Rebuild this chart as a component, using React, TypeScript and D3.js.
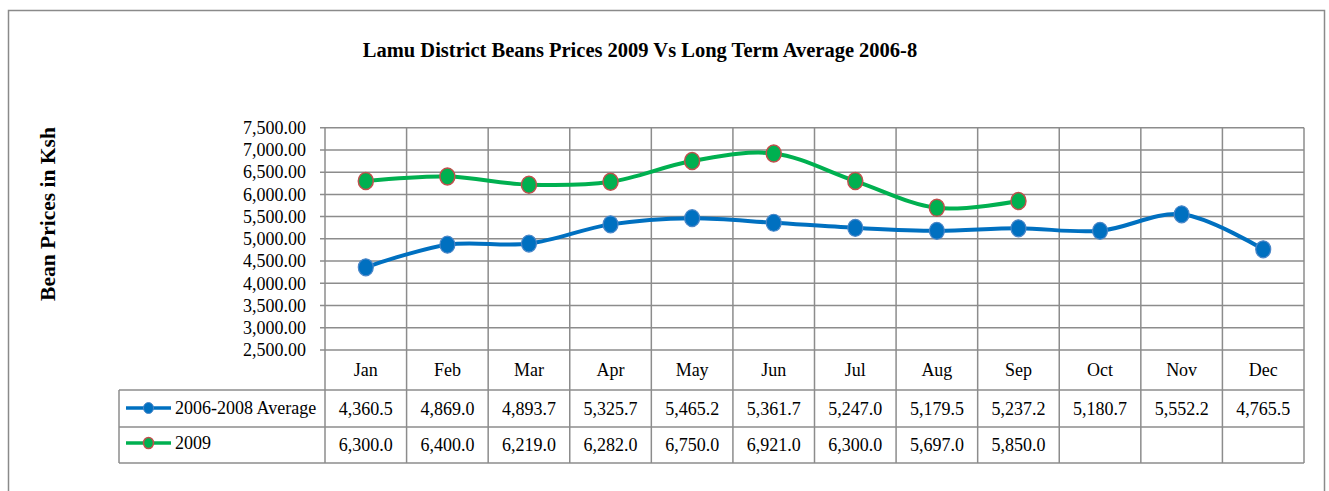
import React from "react";
import * as d3 from "d3";

const months = ["Jan", "Feb", "Mar", "Apr", "May", "Jun", "Jul", "Aug", "Sep", "Oct", "Nov", "Dec"];
const avgValues = [4360.5, 4869.0, 4893.7, 5325.7, 5465.2, 5361.7, 5247.0, 5179.5, 5237.2, 5180.7, 5552.2, 4765.5];
const y2009Values = [6300.0, 6400.0, 6219.0, 6282.0, 6750.0, 6921.0, 6300.0, 5697.0, 5850.0];
const yTicks = [2500, 3000, 3500, 4000, 4500, 5000, 5500, 6000, 6500, 7000, 7500];
const seriesNames = ["2006-2008 Average", "2009"];

const W = 1329;
const H = 491;
const plotL = 325;
const plotR = 1304;
const plotT = 127.7;
const plotB = 350;
const row0B = 390;
const row1B = 427;
const row2B = 463;
const tableL = 119;
const FONT = "'Liberation Serif', 'Times New Roman', serif";
const GRID = "#8c8c8c";
const BLUE = "#0070C0";
const GREEN = "#00B050";

export default function App() {
  const x = d3.scaleBand<string>().domain(months).range([plotL, plotR]);
  const y = d3.scaleLinear().domain([2500, 7500]).range([plotB, plotT]);
  const cx = (m: string) => (x(m) as number) + x.bandwidth() / 2;
  const fmt1 = d3.format(",.1f");
  const fmt2 = d3.format(",.2f");
  const line = d3
    .line<number>()
    .x((_, i) => cx(months[i]))
    .y((d) => y(d))
    .curve(d3.curveCatmullRom.alpha(0.5));
  const bounds = [...months.map((m) => x(m) as number), plotR];

  return (
    <svg width={W} height={H} style={{ position: "absolute", left: 0, top: 0, background: "#fff" }} fontFamily={FONT}>
      <rect x={8.5} y={10.5} width={1316} height={500} fill="#fff" stroke="#8a8a8a" strokeWidth={1.5} />
      <text x={640} y={57} textAnchor="middle" fontWeight="bold" fontSize={20.5} fill="#000">
        Lamu District Beans Prices 2009 Vs Long Term Average 2006-8
      </text>
      <text
        transform={`translate(55,${214}) rotate(-90)`}
        textAnchor="middle"
        fontWeight="bold"
        fontSize={21.5}
        fill="#000"
      >
        Bean Prices in Ksh
      </text>
      {/* horizontal grid */}
      {yTicks.map((t) => (
        <g key={t}>
          <line x1={plotL - 5} x2={plotR} y1={y(t)} y2={y(t)} stroke={GRID} strokeWidth={1.5} />
          <text x={306} y={y(t)} dy="0.35em" textAnchor="end" fontSize={18} fill="#000">
            {fmt2(t)}
          </text>
        </g>
      ))}
      {/* vertical grid through table */}
      {bounds.map((b, i) => (
        <line key={i} x1={b} x2={b} y1={plotT} y2={row2B} stroke={GRID} strokeWidth={1.5} />
      ))}
      {/* table lines */}
      {[row0B, row1B, row2B].map((r) => (
        <line key={r} x1={tableL} x2={plotR} y1={r} y2={r} stroke={GRID} strokeWidth={1.5} />
      ))}
      <line x1={tableL} x2={tableL} y1={row0B} y2={row2B} stroke={GRID} strokeWidth={1.5} />
      {months.map((m) => (
        <text key={m} x={cx(m)} y={(plotB + row0B) / 2} dy="0.35em" textAnchor="middle" fontSize={18} fill="#000">
          {m}
        </text>
      ))}
      {avgValues.map((v, i) => (
        <text key={"a" + i} x={cx(months[i])} y={(row0B + row1B) / 2} dy="0.35em" textAnchor="middle" fontSize={18} fill="#000">
          {fmt1(v)}
        </text>
      ))}
      {y2009Values.map((v, i) => (
        <text key={"b" + i} x={cx(months[i])} y={(row1B + row2B) / 2} dy="0.35em" textAnchor="middle" fontSize={18} fill="#000">
          {fmt1(v)}
        </text>
      ))}
      {/* legend keys */}
      <line x1={126} x2={171} y1={408} y2={408} stroke={BLUE} strokeWidth={3.5} />
      <ellipse cx={148.5} cy={408} rx={5} ry={5.5} fill={BLUE} stroke="#4a86c8" strokeWidth={1} />
      <text x={175} y={408} dy="0.35em" fontSize={18} fill="#000">{seriesNames[0]}</text>
      <line x1={126} x2={171} y1={443} y2={443} stroke={GREEN} strokeWidth={3.5} />
      <ellipse cx={148.5} cy={443} rx={5} ry={5.5} fill={GREEN} stroke="#C0504D" strokeWidth={1.5} />
      <text x={175} y={443} dy="0.35em" fontSize={18} fill="#000">{seriesNames[1]}</text>
      {/* lines */}
      <path d={line(avgValues) || ""} fill="none" stroke={BLUE} strokeWidth={4} />
      <path d={line(y2009Values) || ""} fill="none" stroke={GREEN} strokeWidth={4} />
      {avgValues.map((v, i) => (
        <ellipse key={"am" + i} cx={cx(months[i])} cy={y(v)} rx={7.5} ry={8.5} fill={BLUE} stroke="#4a86c8" strokeWidth={1.2} />
      ))}
      {y2009Values.map((v, i) => (
        <ellipse key={"bm" + i} cx={cx(months[i])} cy={y(v)} rx={7.5} ry={8.5} fill={GREEN} stroke="#C0504D" strokeWidth={1.5} />
      ))}
    </svg>
  );
}
